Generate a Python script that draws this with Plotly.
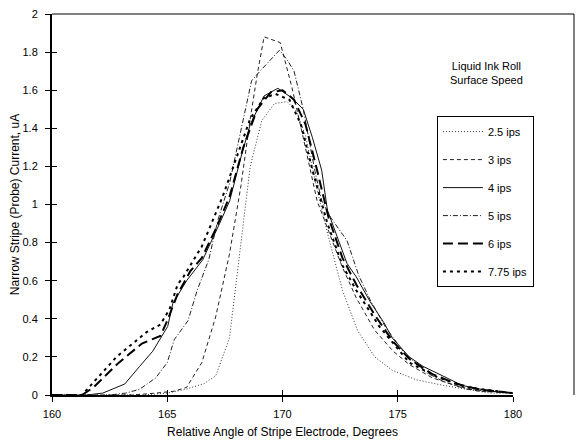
import plotly.graph_objects as go

# ---- data ----
x_25 = [160, 161, 162, 163, 164, 165, 165.8, 166.6, 167.1, 167.7, 168.1, 168.6, 169.1, 169.65, 170.2, 170.6, 171.0, 171.5, 171.95, 172.6, 173.25, 174.0, 174.76, 175.8, 177, 178.1, 179, 180]
y_25 = [0, 0, 0, 0, 0, 0.01, 0.03, 0.06, 0.10, 0.30, 0.70, 1.20, 1.44, 1.53, 1.54, 1.49, 1.36, 1.08, 0.85, 0.55, 0.34, 0.20, 0.13, 0.08, 0.05, 0.03, 0.01, 0.01]

x_3 = [160, 162, 163.5, 164.5, 165.3, 165.84, 166.5, 167.1, 167.7, 168.2, 168.6, 168.9, 169.2, 169.9, 170.4, 170.9, 171.5, 172.0, 172.6, 173.2, 174.0, 174.8, 175.5, 176.5, 177.5, 178.5, 180]
y_3 = [0, 0, 0, 0.01, 0.02, 0.04, 0.17, 0.41, 0.74, 1.10, 1.45, 1.68, 1.88, 1.85, 1.62, 1.35, 1.02, 0.86, 0.67, 0.51, 0.34, 0.23, 0.16, 0.09, 0.05, 0.02, 0.01]

x_4 = [160, 161.5, 162.2, 163.16, 163.8, 164.37, 165.02, 165.24, 165.84, 166.54, 167.27, 167.71, 168.2, 168.6, 169.2, 169.8, 170.4, 170.9, 171.3, 171.7, 171.95, 172.4, 172.8, 173.2, 173.8, 174.4, 174.76, 175.5, 176.1, 176.7, 177.8, 179, 180]
y_4 = [0, 0, 0.01, 0.058, 0.15, 0.23, 0.36, 0.48, 0.60, 0.71, 0.90, 1.02, 1.25, 1.42, 1.57, 1.61, 1.56, 1.50, 1.35, 1.18, 0.97, 0.82, 0.69, 0.62, 0.49, 0.38, 0.30, 0.20, 0.15, 0.115, 0.05, 0.02, 0.01]

x_5 = [160, 161.5, 162.5, 163.2, 163.8, 164.5, 165.0, 165.3, 165.9, 166.3, 166.8, 167.2, 167.7, 168.1, 168.66, 169.1, 169.87, 170.2, 170.5, 170.9, 171.4, 171.7, 172.1, 172.8, 173.3, 173.8, 174.5, 175.3, 176.2, 177, 178, 179, 180]
y_5 = [-0.01, -0.01, 0, 0.01, 0.03, 0.09, 0.17, 0.29, 0.39, 0.55, 0.71, 0.92, 1.11, 1.34, 1.65, 1.71, 1.81, 1.76, 1.70, 1.50, 1.18, 1.02, 0.93, 0.81, 0.63, 0.50, 0.35, 0.22, 0.12, 0.07, 0.03, 0.02, 0.01]

x_6 = [160, 161.3, 161.8, 162.9, 163.9, 164.7, 165.0, 165.45, 166.0, 166.5, 167.1, 167.7, 168.3, 168.9, 169.5, 170.0, 170.5, 171.0, 171.5, 172.0, 172.6, 173.2, 174.0, 174.8, 175.5, 176.5, 177.5, 178.5, 180]
y_6 = [0, 0, 0.04, 0.17, 0.27, 0.31, 0.39, 0.53, 0.65, 0.72, 0.87, 1.04, 1.30, 1.50, 1.59, 1.60, 1.55, 1.42, 1.18, 0.93, 0.72, 0.58, 0.42, 0.28, 0.19, 0.11, 0.06, 0.03, 0.01]

x_775 = [160, 161.3, 161.6, 162.8, 164.1, 164.7, 165.1, 165.45, 165.7, 166.5, 167.4, 168.0, 168.6, 169.2, 169.7, 170.3, 170.8, 171.3, 171.95, 172.6, 173.2, 174.2, 175.5, 176.7, 178, 180]
y_775 = [0, 0, 0.04, 0.20, 0.33, 0.37, 0.45, 0.58, 0.62, 0.78, 1.04, 1.25, 1.45, 1.56, 1.58, 1.55, 1.42, 1.18, 0.90, 0.68, 0.55, 0.36, 0.17, 0.095, 0.04, 0.01]

series_names = ["2.5 ips", "3 ips", "4 ips", "5 ips", "6 ips", "7.75 ips"]
x_tick_vals = [160, 165, 170, 175, 180]
y_tick_vals = [0, 0.2, 0.4, 0.6, 0.8, 1, 1.2, 1.4, 1.6, 1.8, 2]

styles = [
    dict(color="#333333", width=1, dash="1px,2px"),
    dict(color="#222222", width=1, dash="4px,3px"),
    dict(color="#111111", width=1, dash="solid"),
    dict(color="#222222", width=1, dash="5px,2px,1px,2px"),
    dict(color="black", width=2, dash="10px,5px"),
    dict(color="black", width=2, dash="3px,4px"),
]

xs = [x_25, x_3, x_4, x_5, x_6, x_775]
ys = [y_25, y_3, y_4, y_5, y_6, y_775]

FONT = "Arial, Liberation Sans, sans-serif"

fig = go.Figure()
for name, x, y, st in zip(series_names, xs, ys, styles):
    fig.add_trace(go.Scatter(x=x, y=y, mode="lines", name=name, line=st,
                             legendgroup=name))

# invisible trace to activate overlay axes (inside half of crossing ticks)
fig.add_trace(go.Scatter(x=[160], y=[0], xaxis="x2", yaxis="y2", mode="markers",
                         marker=dict(opacity=0), showlegend=False, hoverinfo="skip"))

fig.update_layout(
    width=583, height=444,
    margin=dict(l=52, r=70, t=14, b=49, autoexpand=False),
    paper_bgcolor="white", plot_bgcolor="white",
    font=dict(family=FONT, size=11, color="black"),
    showlegend=True,
    legend=dict(x=0.835, y=0.732, xanchor="left", yanchor="top",
                bordercolor="black", borderwidth=1, bgcolor="white",
                font=dict(size=11), tracegroupgap=9,
                itemwidth=40),
    xaxis=dict(range=[160, 180], tickvals=x_tick_vals, ticks="outside", ticklen=5,
               tickcolor="black", showline=True, linecolor="black", linewidth=2,
               showgrid=False, zeroline=False, automargin=False,
               ticklabelstandoff=3,
               title=dict(text="Relative Angle of Stripe Electrode, Degrees",
                          font=dict(size=12), standoff=8)),
    yaxis=dict(range=[0, 2], tickvals=y_tick_vals, ticks="outside", ticklen=5,
               tickcolor="black", showline=True, linecolor="black", linewidth=2,
               showgrid=False, zeroline=False, automargin=False,
               ticklabelstandoff=5,
               title=dict(text="Narrow Stripe (Probe) Current, uA",
                          font=dict(size=12), standoff=0)),
    xaxis2=dict(range=[160, 180], tickvals=x_tick_vals, ticks="inside", ticklen=5,
                tickcolor="black", showticklabels=False, showline=False,
                showgrid=False, zeroline=False, overlaying="x", side="bottom"),
    yaxis2=dict(range=[0, 2], tickvals=y_tick_vals, ticks="inside", ticklen=5,
                tickcolor="black", showticklabels=False, showline=False,
                showgrid=False, zeroline=False, overlaying="y", side="left"),
    annotations=[dict(text="Liquid Ink Roll<br>Surface Speed", x=0.9436, y=0.845,
                      xref="paper", yref="paper", xanchor="center", yanchor="middle",
                      showarrow=False, font=dict(size=11), align="center")],
    shapes=[
        dict(type="line", xref="paper", yref="paper", x0=0, x1=1.1323, y0=1, y1=1,
             line=dict(color="black", width=1)),
        dict(type="line", xref="paper", yref="paper", x0=1.1323, x1=1.1323, y0=0, y1=1,
             line=dict(color="black", width=1)),
    ],
)

fig.write_html("out.html", config={"displayModeBar": False},
               post_script="document.body.style.margin='0';")
